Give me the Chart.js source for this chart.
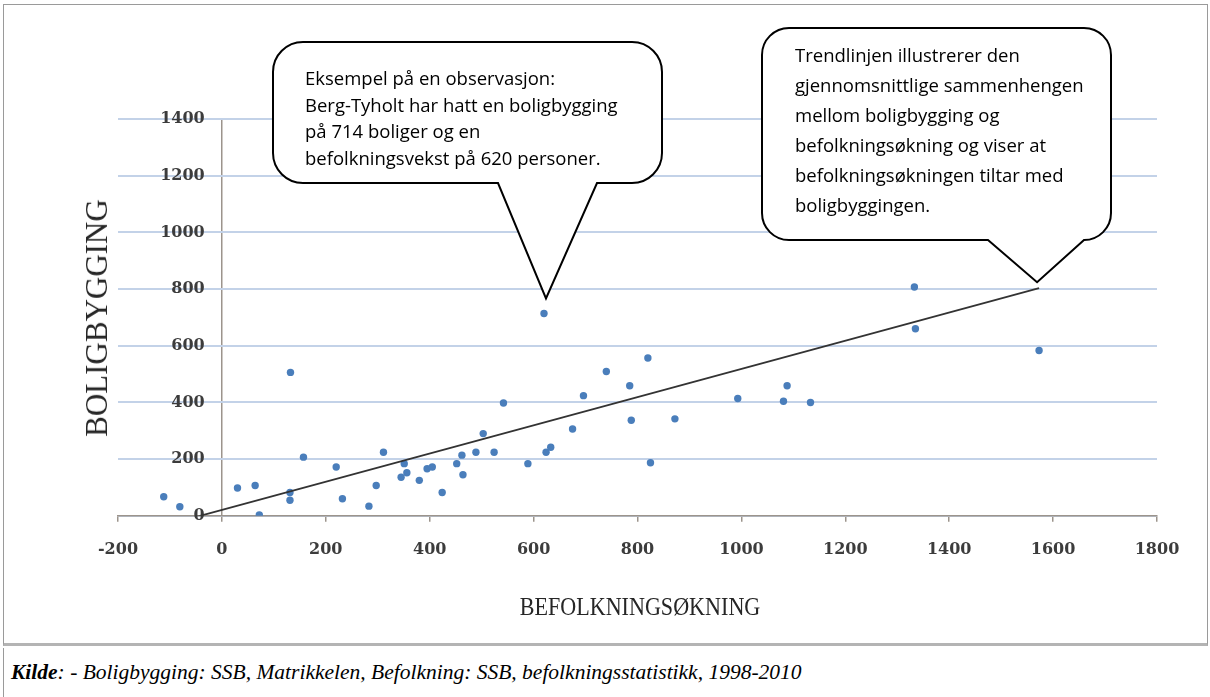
<!DOCTYPE html>
<html>
<head>
<meta charset="utf-8">
<script src="https://cdn.jsdelivr.net/npm/chart.js@4.4.0/dist/chart.umd.min.js"></script>
<style>
  body { margin: 0; background: #fff; width: 1210px; height: 697px; overflow: hidden; position: relative; }
  #frame { position: absolute; left: 3px; top: 4px; width: 1203px; height: 638px;
           border: 1px solid #9a9a9a; border-bottom: 3px solid #b4b4b4; }
  #chartBox { position: absolute; left: 0; top: 0; width: 1203px; height: 638px; }
  .title { position: absolute; font-family: "Liberation Serif", serif; color: #262626; white-space: nowrap; }
  #ytitle { left: 97px; top: 318px; font-size: 31px; transform: translate(-50%, -50%) rotate(-90deg); }
  #xtitle { left: 640px; top: 607px; font-size: 26px; transform: translate(-50%, -50%) scaleX(0.85); }
  #footer { position: absolute; left: 3px; top: 648px; width: 1204px; height: 49px; border-left: 1px solid #9a9a9a; }
  #footer p { margin: 0; position: absolute; left: 7px; top: 12px; font-family: "Liberation Serif", serif;
              font-style: italic; font-size: 21.5px; color: #000; white-space: nowrap; }
</style>
</head>
<body>
<div id="frame">
  <div id="chartBox"><canvas id="myChart"></canvas></div>
</div>
<div class="title" id="ytitle">BOLIGBYGGING</div>
<div class="title" id="xtitle">BEFOLKNINGSØKNING</div>
<div id="footer"><p><b>Kilde</b>: - Boligbygging: SSB, Matrikkelen, Befolkning: SSB, befolkningsstatistikk, 1998-2010</p></div>

<script>
// befolkningsøkning (x) og boligbygging (y) per område
const befolkning = [-112, -81, 30, 64, 72, 131, 131, 132, 157, 220, 232, 283, 297, 311, 345, 351,
    356, 380, 395, 405, 424, 452, 462, 464, 489, 503, 524, 542, 589, 620, 624, 633, 675, 696, 740,
    785, 788, 820, 825, 872, 993, 1081, 1088, 1133, 1333, 1335, 1573];
const boligbygging = [67, 32, 98, 107, 3, 82, 55, 506, 207, 172, 60, 34, 107, 224, 136, 184,
    152, 125, 166, 172, 82, 184, 214, 145, 224, 290, 224, 398, 184, 714, 224, 242, 306, 424, 509,
    459, 337, 557, 187, 342, 414, 404, 459, 400, 807, 660, 583];

// trendlinje, endepunkter
const trendX = [-112, 1573];
const trendY = [-35, 803];

const xTicks = [-200, 0, 200, 400, 600, 800, 1000, 1200, 1400, 1600, 1800];
const yTicks = [0, 200, 400, 600, 800, 1000, 1200, 1400];

const bubble1Lines = [
    'Eksempel på en observasjon:',
    'Berg-Tyholt har hatt en boligbygging',
    'på 714 boliger og en',
    'befolkningsvekst på 620 personer.'
];
const bubble2Lines = [
    'Trendlinjen illustrerer den',
    'gjennomsnittlige sammenhengen',
    'mellom boligbygging og',
    'befolkningsøkning og viser at',
    'befolkningsøkningen tiltar med',
    'boligbyggingen.'
];

const points = befolkning.map((x, i) => ({ x, y: boligbygging[i] }));
const trend = trendX.map((x, i) => ({ x, y: trendY[i] }));

const callouts = [
    { box: [269, 37, 658, 178], r: 30, base: [494, 593], at: [620, 714], off: [2, -15],
        lines: bubble1Lines, textX: 301, textY: 75, step: 26.5 },
    { box: [758, 23, 1107, 235], r: 27, base: [984, 1080], at: [1573, 803], off: [-2, -6],
        lines: bubble2Lines, textX: 791, textY: 52, step: 30 }
];

const calloutPlugin = {
    id: 'callouts',
    afterDraw(chart) {
        const { ctx, scales: { x, y } } = chart;
        callouts.forEach(c => {
            const [L, T, R, B] = c.box;
            const r = c.r;
            const tipX = x.getPixelForValue(c.at[0]) + c.off[0];
            const tipY = y.getPixelForValue(c.at[1]) + c.off[1];
            ctx.save();
            ctx.beginPath();
            ctx.moveTo(L + r, T);
            ctx.lineTo(R - r, T);
            ctx.arcTo(R, T, R, T + r, r);
            ctx.lineTo(R, B - r);
            ctx.arcTo(R, B, R - r, B, r);
            ctx.lineTo(c.base[1], B);
            ctx.lineTo(tipX, tipY);
            ctx.lineTo(c.base[0], B);
            ctx.lineTo(L + r, B);
            ctx.arcTo(L, B, L, B - r, r);
            ctx.lineTo(L, T + r);
            ctx.arcTo(L, T, L + r, T, r);
            ctx.closePath();
            ctx.fillStyle = '#fff';
            ctx.fill();
            ctx.lineWidth = 2;
            ctx.strokeStyle = '#000';
            ctx.stroke();
            ctx.fillStyle = '#000';
            ctx.font = '18.5px "Open Sans"';
            ctx.textBaseline = 'middle';
            ctx.textAlign = 'left';
            c.lines.forEach((t, i) => ctx.fillText(t, c.textX, c.textY + i * c.step));
            ctx.restore();
        });
    }
};

const axisColor = '#9c948c';
const tickFont = { family: 'DejaVu Serif', size: 16, weight: 'bold' };

const ctx = document.getElementById('myChart');
const myChart = new Chart(ctx, { // eslint-disable-line
    type: 'scatter',
    data: {
        datasets: [{
            type: 'line',
            data: trend,
            borderColor: '#333333',
            borderWidth: 1.8,
            pointRadius: 0,
            fill: false
        },
        {
            data: points,
            backgroundColor: '#4a7ebb',
            borderWidth: 0,
            pointRadius: 3.7
        }]
    },
    options: {
        responsive: true,
        maintainAspectRatio: false,
        animation: false,
        events: [],
        layout: { padding: { left: 114, right: 50, top: 114, bottom: 66 } },
        plugins: {
            legend: { display: false },
            tooltip: { enabled: false }
        },
        scales: {
            x: {
                type: 'linear',
                min: -200,
                max: 1800,
                afterBuildTicks: axis => { axis.ticks = xTicks.map(v => ({ value: v })); },
                grid: {
                    // only the line at x = 0 is drawn across the plot: it is the vertical axis
                    color: c => (c.tick && c.tick.value === 0 ? axisColor : 'rgba(0,0,0,0)'),
                    tickColor: axisColor,
                    tickLength: 6,
                    lineWidth: 1.5
                },
                border: { color: axisColor, width: 1.5 },
                ticks: { font: tickFont, color: '#3c3c3c', padding: 18, maxRotation: 0,
                    callback: v => String(v) }
            },
            y: {
                type: 'linear',
                min: 0,
                max: 1400,
                position: { x: -33 },
                afterBuildTicks: axis => { axis.ticks = yTicks.map(v => ({ value: v })); },
                grid: { color: '#c3d2e8', lineWidth: 2, drawTicks: false },
                border: { display: false },
                ticks: { font: tickFont, color: '#3c3c3c', callback: v => String(v) }
            }
        }
    },
    plugins: [calloutPlugin]
});
</script>
</body>
</html>
